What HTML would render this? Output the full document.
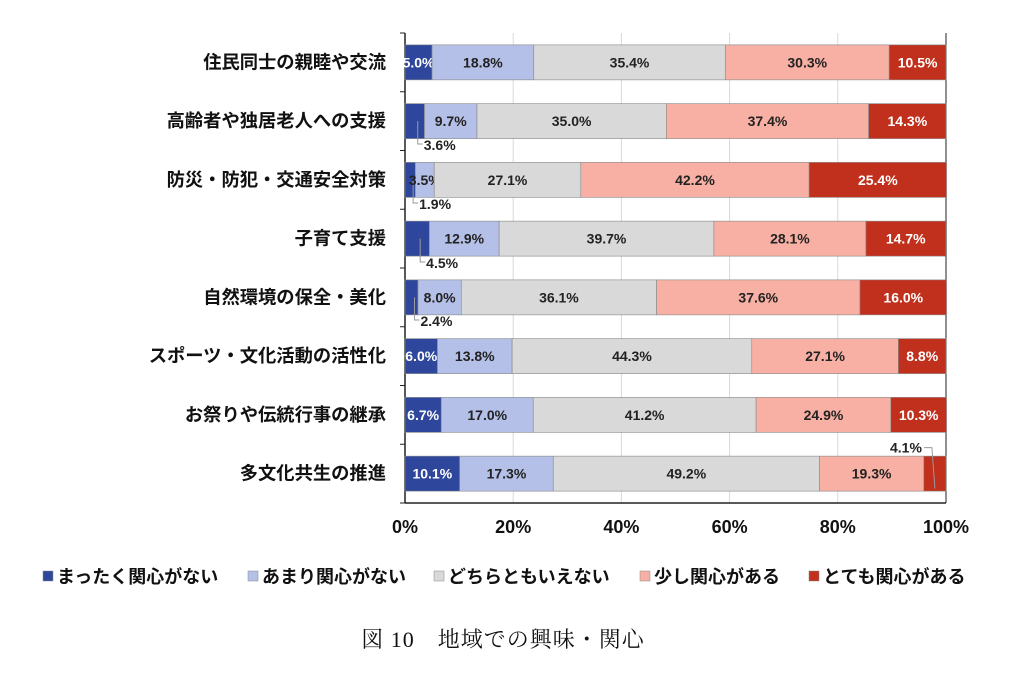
<!DOCTYPE html>
<html><head><meta charset="utf-8"><style>
body{margin:0;background:#fff;}
svg text{font-family:"Liberation Sans","Noto Sans CJK JP",sans-serif;}
</style></head><body>
<svg id="s" width="1024" height="682" xmlns="http://www.w3.org/2000/svg"></svg>
<script>
const s=document.getElementById('s');
const X0=405,W=541,T=33,B=503,RH=(B-T)/8;
const cats=["住民同士の親睦や交流","高齢者や独居老人への支援","防災・防犯・交通安全対策","子育て支援","自然環境の保全・美化","スポーツ・文化活動の活性化","お祭りや伝統行事の継承","多文化共生の推進"];
const d=[[5.0,18.8,35.4,30.3,10.5],[3.6,9.7,35.0,37.4,14.3],[1.9,3.5,27.1,42.2,25.4],[4.5,12.9,39.7,28.1,14.7],[2.4,8.0,36.1,37.6,16.0],[6.0,13.8,44.3,27.1,8.8],[6.7,17.0,41.2,24.9,10.3],[10.1,17.3,49.2,19.3,4.1]];
const cols=["#2E479C","#B4C0E7","#D9D9D9","#F8B0A4","#C1301C"];
const tcol=["#fff","#222","#222","#222","#fff"];
let h='';
for(let i=1;i<=4;i++){const x=X0+W*i*0.2;h+=`<line x1="${x}" y1="${T}" x2="${x}" y2="${B}" stroke="#d9d9d9"/>`;}
h+=`<line x1="${X0}" y1="${T}" x2="${X0}" y2="${B}" stroke="#222" stroke-width="1.5"/>`;
h+=`<line x1="${X0}" y1="${B}" x2="${X0+W}" y2="${B}" stroke="#222" stroke-width="1.5"/>`;
h+=`<line x1="${X0+W}" y1="${T}" x2="${X0+W}" y2="${B}" stroke="#222" stroke-width="1"/>`;
for(let i=0;i<=8;i++){const y=T+RH*i;h+=`<line x1="${X0-5}" y1="${y}" x2="${X0}" y2="${y}" stroke="#222"/>`;}
const small={1:[0,420,149],2:[0,420,208],3:[0,430,267],4:[0,420,325]};
d.forEach((r,i)=>{
 const yc=T+RH*(i+0.5),y=yc-17.5;let x=X0;
 h+=`<text x="386" y="${yc+6}" text-anchor="end" font-size="18.3" font-weight="bold" fill="#111">${cats[i]}</text>`;
 r.forEach((v,j)=>{const w=W*v/100;
  h+=`<rect x="${x}" y="${y}" width="${w}" height="35" fill="${cols[j]}" stroke="#888" stroke-width="0.6"/>`;
  const lead=(small[i]&&j==0)||(i==7&&j==4);
  if(!lead) h+=`<text x="${x+w/2}" y="${yc+5}" text-anchor="middle" font-size="14" font-weight="bold" fill="${tcol[j]}">${v.toFixed(1)}%</text>`;
  else if(i==7){const lx=x+w/2;h+=`<polyline points="${lx},${yc+15} ${lx-3},${yc-26} ${lx-11},${yc-26}" fill="none" stroke="#999"/><text x="${lx-13}" y="${yc-21}" text-anchor="end" font-size="14" font-weight="bold" fill="#222">4.1%</text>`;}
  else{const lx=x+w/2+3,ty=small[i][2];h+=`<polyline points="${lx},${yc} ${lx},${ty-5} ${lx+5},${ty-5}" fill="none" stroke="#999"/><text x="${lx+6}" y="${ty+1}" font-size="14" font-weight="bold" fill="#222">${v.toFixed(1)}%</text>`;}
  x+=w;});
});
for(let i=0;i<=5;i++){h+=`<text x="${X0+W*i*0.2}" y="533" text-anchor="middle" font-size="18" font-weight="bold" fill="#111">${i*20}%</text>`;}
const lg=[["まったく関心がない",43],["あまり関心がない",248],["どちらともいえない",434],["少し関心がある",640],["とても関心がある",809]];
lg.forEach((l,j)=>{h+=`<rect x="${l[1]}" y="571" width="10" height="10" fill="${cols[j]}" stroke="#888" stroke-width="0.5"/><text x="${l[1]+14}" y="583" font-size="18" font-weight="bold" fill="#111">${l[0]}</text>`;});
h+=`<text x="503" y="647" text-anchor="middle" font-size="22" letter-spacing="1" fill="#111" style="font-family:'Liberation Serif','Noto Serif CJK SC',serif">図 10　地域での興味・関心</text>`;
s.innerHTML=h;
</script>
</body></html>
